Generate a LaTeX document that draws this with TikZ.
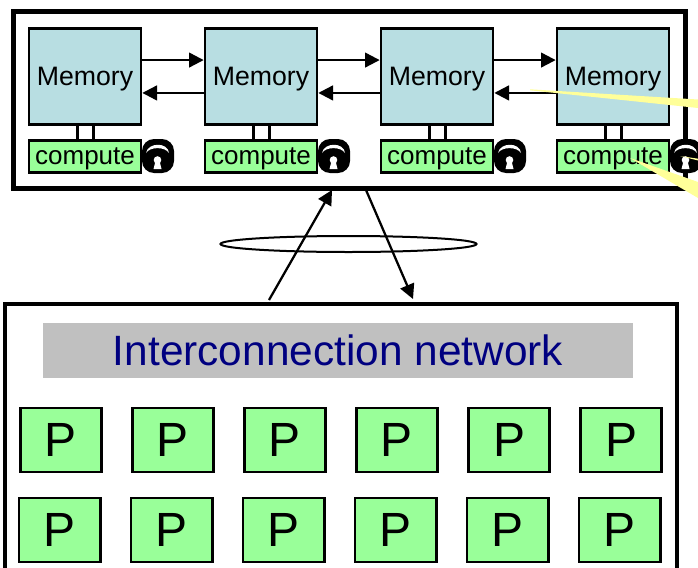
\documentclass[tikz,border=0pt]{standalone}
\usepackage{fontspec}
\setmainfont{Liberation Sans}
\usetikzlibrary{arrows.meta,shapes.geometric}
\definecolor{memfill}{RGB}{184,222,226}
\definecolor{cmpfill}{RGB}{153,255,153}
\definecolor{netfill}{RGB}{192,192,192}
\definecolor{nettext}{RGB}{0,0,128}
\definecolor{calloutfill}{RGB}{255,255,153}
\tikzset{every picture/.style={line width=0.75pt}}
\tikzset{
	framebox/.style={draw,inner sep=0pt,outer sep=0pt},
	membox/.style={draw,fill=memfill,line width=2pt,minimum width=84pt,minimum height=72pt,inner sep=0pt,text depth=0pt,font=\fontsize{20}{20}\selectfont},
	cmpbox/.style={draw,fill=cmpfill,line width=2pt,minimum width=84pt,minimum height=24pt,inner sep=0pt,text depth=0pt,font=\fontsize{19.5}{20}\selectfont},
	pbox/.style={draw,fill=cmpfill,line width=2pt,minimum width=61pt,minimum height=48pt,inner sep=0pt,font=\fontsize{36}{36}\selectfont},
	linkarrow/.style={line width=1.7pt,-{Triangle[length=11pt,width=11pt]}},
	portline/.style={line width=2pt},
	callout/.style={fill=calloutfill,draw=none}
}

\begin{document}
\begin{tikzpicture}[x=0.75pt,y=0.75pt,yscale=-1,xscale=1]
	\useasboundingbox (0,0) rectangle (698,567);

	% Frames
	\node [framebox,line width=3.75pt,minimum width=504pt,minimum height=132pt] (nodeframe) at (349,100) {};
	\node [framebox,line width=3pt,minimum width=503.5pt,minimum height=240pt,anchor=north west] (netframe) at (5.3,304) {};

	% Memory, compute and lock per node
	\foreach \i/\x in {1/85,2/261,3/437,4/613}{
		\node [membox] (mem\i) at (\x,76.5) {Memory};
		\node [cmpbox] (cmp\i) at (\x,156.5) {compute};
		\draw [portline] (mem\i.-99.5) -- (mem\i.-99.5 |- cmp\i.north);
		\draw [portline] (mem\i.-80.5) -- (mem\i.-80.5 |- cmp\i.north);
		\fill [rounded corners=9pt] (\x+57,139) rectangle (\x+89,173);
		\fill [white] (\x+61,153) .. controls (\x+63,142) and (\x+83,142) .. (\x+84,153) .. controls (\x+80,146.5) and (\x+65,146.5) .. cycle;
		\fill [white] (\x+72.5,160) circle [radius=3.8];
		\fill [white] (\x+70.5,161) -- (\x+74.5,161) -- (\x+76.5,169) -- (\x+68.5,169) -- cycle;
	}

	% Links between memories
	\foreach \a/\b in {1/2,2/3,3/4}{
		\draw [linkarrow] (mem\a.16) -- (mem\b.164);
		\draw [linkarrow] (mem\b.-164) -- (mem\a.-16);
	}

	% Callouts
	\fill [callout] (530,89.3) -- (698,99.5) -- (698,108) -- (530,90.3) -- cycle;
	\fill [callout] (630,158) -- (698,182) -- (698,198) -- cycle;
	\fill [callout] (680,156) -- (698,158.7) -- (698,160.5) -- cycle;

	% Interconnection
	\node [fill=netfill,text=nettext,minimum width=442.5pt,minimum height=41pt,inner sep=0pt,text depth=0pt,font=\fontsize{31.8}{32}\selectfont] (net) at (338,350.5) {Interconnection network};
	\foreach \j in {0,...,5}{
		\node [pbox] (pa\j) at (61+112*\j,440) {P};
		\node [pbox] (pb\j) at (59.5+112*\j,530) {P};
	}

	% Links to the network
	\coordinate (upfrom) at (269,300);
	\coordinate (upto) at (332,190);
	\coordinate (downfrom) at (366,190);
	\coordinate (downto) at (413,299);
	\draw [linkarrow] (upfrom) -- (upto);
	\draw [linkarrow] (downfrom) -- (downto);
	\node [draw,ellipse,line width=1.5pt,minimum width=192pt,minimum height=12pt,inner sep=0pt] (bundle) at (348.5,244) {};
\end{tikzpicture}
\end{document}
